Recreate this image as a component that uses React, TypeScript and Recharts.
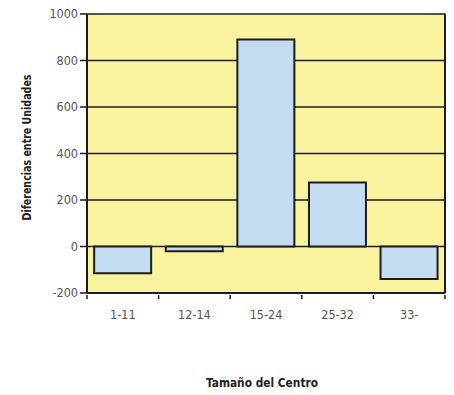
import React from 'react';
import { BarChart, Bar, XAxis, YAxis, CartesianGrid, Label } from 'recharts';

const categories = ['1-11', '12-14', '15-24', '25-32', '33-'];
const values = [-115, -20, 890, 275, -140];
const yTicks = [-200, 0, 200, 400, 600, 800, 1000];

const data = categories.map((c, i) => ({ name: c, value: values[i] }));

const FONT = '"Liberation Sans Narrow", "DejaVu Sans Condensed", "Liberation Sans", sans-serif';
const INK = '#1c1c1c';

const XTick = (props: any) => {
  const { x, y, payload, index, visibleTicksCount } = props;
  const band = 71.6;
  const half = band / 2;
  return (
    <g>
      <line x1={x - half} y1={y - 6} x2={x - half} y2={y - 2} stroke={INK} strokeWidth={1.5} />
      {index === (visibleTicksCount ?? 5) - 1 && (
        <line x1={x + half} y1={y - 6} x2={x + half} y2={y - 2} stroke={INK} strokeWidth={1.5} />
      )}
      <text x={x} y={y + 18} textAnchor="middle" fill="#555" fontSize={12.5} fontFamily={FONT}>
        {payload.value}
      </text>
    </g>
  );
};

export default function App() {
  return (
    <div style={{ position: 'absolute', left: 0, top: 0, width: 454, height: 395, background: '#fff' }}>
      <BarChart
        width={454}
        height={395}
        data={data}
        margin={{ top: 14, right: 0, left: 0, bottom: 12 }}
        barCategoryGap="10%"
      >
        <CartesianGrid
          horizontal
          vertical={false}
          stroke={INK}
          strokeWidth={1.5}
          fill="#F9F3A0"
          fillOpacity={1}
          yAxisId="left"
        />
        <XAxis
          dataKey="name"
          axisLine={{ stroke: INK, strokeWidth: 2 }}
          tickLine={false}
          tick={<XTick />}
          height={90}
          interval={0}
        >
          <Label
            content={() => (
              <text
                x={262}
                y={387}
                textAnchor="middle"
                fontSize={12.5}
                fontWeight="bold"
                fill="#222"
                fontFamily={FONT}
                textLength={112}
                lengthAdjust="spacingAndGlyphs"
              >
                Tamaño del Centro
              </text>
            )}
          />
        </XAxis>
        <YAxis
          yAxisId="left"
          domain={[-200, 1000]}
          ticks={yTicks}
          interval={0}
          width={87}
          axisLine={{ stroke: INK, strokeWidth: 2 }}
          tickLine={{ stroke: INK, strokeWidth: 1.5 }}
          tickSize={7}
          tick={{ fill: '#555', fontSize: 12.5, fontFamily: FONT }}
        >
          <Label
            content={(p: any) => {
              const vb = p.viewBox || {};
              const cy = (vb.y ?? 14) + (vb.height ?? 279) / 2 - 6;
              return (
                <text
                  x={26}
                  y={cy}
                  transform={`rotate(-90, 26, ${cy})`}
                  textAnchor="middle"
                  dominantBaseline="central"
                  fontSize={12.5}
                  fontWeight="bold"
                  fill="#222"
                  fontFamily={FONT}
                  textLength={146}
                  lengthAdjust="spacingAndGlyphs"
                >
                  Diferencias entre Unidades
                </text>
              );
            }}
          />
        </YAxis>
        <YAxis
          yAxisId="right"
          orientation="right"
          domain={[-200, 1000]}
          width={9}
          tick={false}
          tickLine={false}
          axisLine={{ stroke: INK, strokeWidth: 2 }}
        />
        <Bar
          yAxisId="left"
          dataKey="value"
          fill="#C4DCF0"
          stroke={INK}
          strokeWidth={2}
          isAnimationActive={false}
        />
      </BarChart>
    </div>
  );
}
